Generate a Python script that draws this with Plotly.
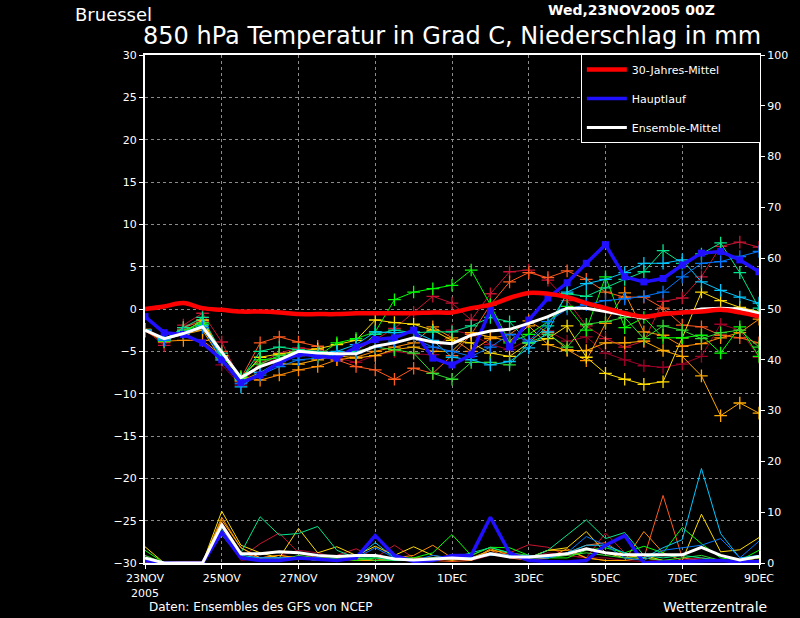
import pandas as pd
import plotly.graph_objects as go

# 12-hourly steps from 23NOV2005 00Z to 9DEC2005 00Z
zeit = pd.date_range("2005-11-23 00:00", periods=33, freq="12h")

# 850 hPa temperature (deg C)
klima_mittel = [0.0, 0.3, 0.7, 0.1, -0.1, -0.3, -0.3, -0.4, -0.6, -0.6, -0.6, -0.5, -0.5, -0.5, -0.5, -0.4,
                -0.4, 0.1, 0.5, 1.3, 1.9, 1.8, 1.4, 0.7, 0.1, -0.5, -0.9, -0.6, -0.4, -0.3, -0.1, -0.4, -0.9]
hauptlauf = [-0.9, -2.8, -3.0, -4.0, -6.0, -8.7, -7.8, -6.3, -5.3, -5.5, -5.8, -4.5, -3.6, -3.4, -2.5, -5.8,
             -6.6, -5.4, -0.1, -4.5, -1.3, 1.3, 3.1, 5.4, 7.6, 3.8, 3.2, 3.6, 5.2, 6.6, 6.8, 5.8, 4.4]
ens_mittel = [-2.5, -3.5, -2.9, -2.1, -5.1, -8.1, -6.8, -6.0, -5.0, -5.2, -5.3, -5.3, -4.4, -4.0, -3.4, -3.9,
              -4.1, -3.1, -2.6, -2.4, -1.7, -0.9, 0.1, 0.1, -0.3, -0.7, -1.1, -0.5, -0.4, 0.0, 0.1, 0.0, -0.5]

members = {
    "#c81432": [-2.4, -4.3, -1.9, -0.5, -3.9, -8.6, -6.4, -5.2, -4.6, -4.8, -5.6, -4.9, -3.6, -2.3, -0.4, 1.5,
                0.7, -1.3, 1.8, 4.4, 4.6, 3.4, 1.0, -2.0, -3.5, -4.5, -3.8, 0.9, 1.3, 3.8, 7.4, 7.9, 7.3],
    "#a00028": [-2.6, -4.0, -2.4, -1.0, -6.6, -9.0, -6.2, -6.0, -5.5, -5.0, -5.8, -6.3, -5.5, -5.0, -5.3, -5.4,
                -2.5, -3.0, -4.2, -4.8, -3.6, -2.6, -3.8, -3.3, -5.2, -6.0, -6.7, -6.9, -6.5, -5.6, -1.8, -2.5, -5.7],
    "#ff5a1e": [-2.5, -3.9, -2.2, -1.4, -5.0, -8.2, -4.0, -3.3, -3.9, -4.4, -6.0, -6.8, -7.2, -8.3, -7.0, -7.6,
                -5.5, -3.0, 0.5, 3.2, 4.3, 3.7, 4.5, 3.5, 2.0, 1.4, 1.4, 0.1, -1.9, -2.1, -3.1, -3.4, -4.0],
    "#ff8c00": [-2.6, -3.8, -3.7, -3.7, -5.5, -8.0, -8.4, -7.8, -7.2, -6.8, -6.0, -5.7, -5.0, -4.5, -4.0, -2.1,
                -3.4, -5.0, -3.5, -3.0, -1.4, -2.8, -4.8, -6.1, -1.7, 1.9, -2.7, -3.1, -4.4, -4.1, -3.4, -2.8, -1.2],
    "#ffaa00": [-2.5, -3.6, -3.0, -2.5, -6.0, -8.5, -7.5, -6.5, -6.5, -6.0, -5.5, -5.8, -5.5, -4.8, -4.5, -5.0,
                -5.0, -2.8, -3.3, -3.8, -2.0, -4.2, -4.9, -4.9, -4.0, -4.0, -3.8, -4.9, -5.6, -7.9, -12.6, -11.1, -12.3],
    "#ffdc00": [-2.4, -3.5, -2.8, -1.3, -5.5, -8.2, -5.7, -5.3, -5.0, -4.7, -4.2, -3.7, -1.3, -1.6, -1.8, -2.5,
                -3.7, -4.0, -5.2, -5.6, -4.0, -3.5, -2.0, -5.7, -7.6, -8.3, -8.9, -8.6, -3.4, 2.0, 1.0, 0.2, -0.3],
    "#00ff00": [-2.5, -3.8, -2.6, -1.8, -5.6, -8.0, -6.0, -5.8, -5.4, -5.6, -4.0, -3.5, -2.7, 1.1, 2.0, 2.4,
                2.8, 4.6, 0.5, -4.0, -3.0, -1.5, 0.3, -2.5, 3.8, -2.2, -1.0, -3.4, -3.4, -3.1, -5.2, -2.1, -5.6],
    "#32dc32": [-2.5, -3.7, -2.5, -1.6, -5.8, -8.4, -6.5, -5.5, -5.0, -5.5, -5.5, -5.0, -4.5, -4.8, -5.2, -7.6,
                -8.3, -6.3, -6.3, -6.6, -4.0, -3.0, -4.5, -1.8, -1.5, -1.0, -3.5, -2.0, -2.5, -3.5, -2.8, -2.5, -4.5],
    "#00e68c": [-2.5, -3.6, -2.2, -1.0, -5.2, -8.3, -5.0, -4.5, -4.8, -5.0, -5.5, -5.0, -3.0, -2.5, -2.8, -2.7,
                -2.7, -2.0, -1.0, -1.5, -4.0, -2.0, 1.8, 1.5, 2.5, 3.5, 4.4, 6.9, 5.4, 6.5, 7.8, 4.3, 0.1],
    "#00c8ff": [-2.6, -3.5, -2.7, -2.0, -5.7, -9.2, -7.5, -6.2, -5.5, -5.2, -5.0, -4.2, -2.7, -2.8, -2.7, -3.7,
                -5.7, -6.0, -6.6, -6.2, -4.6, -2.7, 2.0, 3.0, 3.5, 4.3, 5.4, 5.4, 5.8, 3.2, 2.2, 1.4, 0.7],
    "#0078ff": [-2.5, -3.7, -2.9, -2.2, -6.0, -8.8, -7.8, -6.8, -6.0, -5.8, -5.5, -5.2, -4.5, -3.8, -3.5, -4.5,
                -5.0, -5.6, -4.5, -3.0, -3.8, -1.5, 0.0, 0.5, 1.0, 1.2, 1.5, 2.0, 3.8, 5.4, 5.6, 6.2, 6.8],
}

# precipitation (mm per 12h), right axis
nieder_haupt = [0.5, 0, 0, 0, 6.0, 1.0, 0.5, 0.5, 1.0, 0.8, 0.5, 1.0, 5.4, 1.5, 0.3, 0.5,
                1.5, 1.5, 9.0, 2.0, 0.5, 0.3, 0.2, 0.5, 3.5, 5.4, 0.0, 0.2, 0.3, 0.5, 0.5, 0.2, 0.3]
nieder_mittel = [1.0, 0, 0, 0, 7.5, 1.8, 1.8, 2.2, 2.0, 1.5, 1.3, 1.5, 1.5, 0.8, 0.6, 0.8,
                 1.0, 0.8, 1.8, 1.2, 1.2, 1.5, 1.8, 2.8, 2.0, 1.6, 1.6, 1.6, 1.6, 3.1, 1.5, 0.6, 1.3]
nieder_members = {
    "#c81432": [0.5, 0, 0, 0, 7, 1, 3.8, 5.9, 2, 1, 1.5, 2.8, 1, 3.5, 1, 0.5, 0.8, 0.5, 1.5, 2, 3.6, 3.1, 1.5, 1, 5.9, 2, 1, 0.5, 0.5, 1, 0.5, 0.3, 1],
    "#a00028": [0.3, 0, 0, 0, 6, 0.5, 1, 1.5, 2.5, 2, 1, 1, 0.5, 0.5, 0.5, 1, 1, 1, 1.5, 1.5, 1, 2, 1.5, 1, 1, 0.5, 0.3, 0.5, 0.5, 1, 0.5, 0.3, 0.5],
    "#ff5a1e": [0.2, 0, 0.3, 0.3, 8, 2, 1, 1.5, 1, 0.5, 0.5, 0.8, 0.5, 1, 0.5, 0.5, 0.3, 0.5, 2.5, 1, 0.5, 1, 2, 3.5, 4.0, 1.5, 1, 13.3, 1, 0.5, 0.5, 0.3, 0.5],
    "#ff8c00": [0.3, 0, 0.3, 0, 9, 3, 1, 1, 1, 0.5, 0.5, 1, 0.5, 1, 1.5, 3.5, 1, 0.5, 2.8, 1.5, 1, 1, 2.8, 1, 0.5, 0.5, 6.2, 2, 0.5, 0.3, 0.3, 0.5, 1],
    "#ffaa00": [0.5, 0, 0, 0, 8.5, 3, 1, 1.5, 1, 0.5, 0.8, 0.5, 0.5, 0.5, 1, 1, 0.5, 1, 2.5, 2, 1, 2.5, 2.5, 1, 0.5, 0.5, 1, 0.5, 0.5, 0.3, 0.5, 0.5, 1],
    "#ffdc00": [3.2, 0, 0, 0, 10.2, 3.5, 2, 1, 6.8, 2, 3.2, 1.5, 3.3, 1.5, 3.2, 1.5, 0.8, 1, 2, 1.5, 1, 2.5, 3, 6.2, 2, 1, 1.5, 0.5, 0.5, 9.6, 2.2, 2.6, 5.0],
    "#00ff00": [2.5, 0, 0, 0, 6, 1, 0.5, 0.5, 1, 0.5, 1, 0.5, 1, 1, 1, 2, 5.6, 1.5, 3.1, 3, 1.5, 1, 1, 2.5, 3, 2, 3.3, 2, 7, 3.8, 1, 0.5, 2.5],
    "#32dc32": [1.5, 0, 0, 0, 5.5, 1, 0.5, 0.5, 1.5, 1, 1, 1, 0.5, 0.5, 0.5, 1, 1, 1.5, 3.1, 2, 1.5, 1, 1.5, 2, 1.5, 1, 1, 0.5, 1, 1.5, 0.5, 0.5, 1],
    "#00e68c": [1.0, 0, 0, 0, 7, 2, 9.1, 5.5, 5.8, 7.2, 2.5, 1, 1, 0.5, 0.5, 1, 1, 2, 3, 2, 1, 2.5, 5.5, 8.5, 4.8, 6.0, 1.5, 1, 1.5, 1, 0.5, 0.3, 0.5],
    "#00c8ff": [0.5, 0, 0, 0, 6.5, 1.5, 1, 1, 1, 1, 0.5, 1, 4, 1, 0.5, 0.5, 1, 1, 1.5, 1.5, 1, 1, 2, 3.5, 3.5, 2, 1, 3, 4.6, 18.6, 5.8, 1, 1.5],
    "#0078ff": [0.5, 0, 0, 0, 6, 1, 1, 1, 1, 1, 0.5, 1, 3, 1, 0.5, 1.5, 1, 1, 2, 1.5, 1.5, 1, 2, 5.2, 3.5, 1, 0.5, 2.5, 3, 3.5, 4.8, 1, 4.3],
}

tick_tage = pd.date_range("2005-11-23", "2005-12-09", freq="2D")
tick_text = ["23NOV<br>2005", "25NOV", "27NOV", "29NOV", "1DEC", "3DEC", "5DEC", "7DEC", "9DEC"]

FONT = "DejaVu Sans"
BLAU = "#2010ff"
PAD = "\u00a0" * 10  # makes the legend box as wide as in the original

fig = go.Figure()

# ensemble members: precipitation first, then temperature
for farbe, werte in nieder_members.items():
    fig.add_trace(go.Scatter(x=zeit, y=werte, yaxis="y2", mode="lines",
                             line=dict(color=farbe, width=1), showlegend=False))
for farbe, werte in members.items():
    fig.add_trace(go.Scatter(x=zeit, y=werte, mode="lines+markers",
                             line=dict(color=farbe, width=1),
                             marker=dict(symbol="cross-thin", size=9, line=dict(color=farbe, width=1.3)),
                             showlegend=False))

fig.add_trace(go.Scatter(x=zeit, y=nieder_haupt, yaxis="y2", mode="lines",
                         line=dict(color=BLAU, width=3.5), showlegend=False))
fig.add_trace(go.Scatter(x=zeit, y=nieder_mittel, yaxis="y2", mode="lines",
                         line=dict(color="white", width=3), showlegend=False))

fig.add_trace(go.Scatter(x=zeit, y=hauptlauf, mode="lines", name="Hauptlauf",
                         line=dict(color=BLAU, width=3.5), legendgroup="b", legendrank=2))
fig.add_trace(go.Scatter(x=zeit, y=hauptlauf, mode="markers", showlegend=False,
                         marker=dict(symbol="square", size=7, color=BLAU)))
fig.add_trace(go.Scatter(x=zeit, y=ens_mittel, mode="lines", name="Ensemble-Mittel",
                         line=dict(color="white", width=3), legendgroup="c", legendrank=3))
fig.add_trace(go.Scatter(x=zeit, y=klima_mittel, mode="lines", name="30-Jahres-Mittel" + PAD,
                         line=dict(color="#ff0000", width=4.5, shape="spline"),
                         legendgroup="a", legendrank=1))

achse = dict(color="white", linecolor="white", linewidth=2, ticks="outside", ticklen=4,
             tickcolor="white", tickfont=dict(family=FONT, size=11, color="white"))

fig.update_layout(
    width=800, height=618,
    margin=dict(l=145, r=37, t=55, b=55),
    paper_bgcolor="black", plot_bgcolor="black",
    font=dict(family=FONT, color="white"),
    xaxis=dict(range=[zeit[0], zeit[-1]], tickvals=tick_tage, ticktext=tick_text,
               showgrid=True, gridcolor="#8c8c8c", griddash="dot", gridwidth=1,
               mirror=True, zeroline=False, **achse),
    yaxis=dict(range=[-30, 30], dtick=5, showgrid=True, gridcolor="#8c8c8c", griddash="dot",
               gridwidth=1, zeroline=False, **achse),
    yaxis2=dict(range=[0, 100], dtick=10, overlaying="y", side="right", showgrid=False,
                zeroline=False, **achse),
    legend=dict(x=1.003, y=1.002, xanchor="right", yanchor="top", bgcolor="black",
                bordercolor="white", borderwidth=1, itemwidth=40,
                font=dict(family=FONT, size=11, color="white"), tracegroupgap=10),
    annotations=[
        dict(text="Bruessel", x=-0.117, y=1.104, xref="paper", yref="paper",
             xanchor="left", yanchor="top", showarrow=False,
             font=dict(family=FONT, size=18, color="white")),
        dict(text="850 hPa Temperatur in Grad C, Niederschlag in mm", x=0.5, y=1.037,
             xref="paper", yref="paper", xanchor="center", yanchor="middle", showarrow=False,
             font=dict(family=FONT, size=24, color="white")),
        dict(text="<b>Wed,23NOV2005 00Z</b>", x=0.793, y=1.089, xref="paper", yref="paper",
             xanchor="center", yanchor="middle", showarrow=False,
             font=dict(family=FONT, size=14, color="white")),
        dict(text="Daten: Ensembles des GFS von NCEP", x=0.003, y=-0.087, xref="paper",
             yref="paper", xanchor="left", yanchor="middle", showarrow=False,
             font=dict(family=FONT, size=12, color="white")),
        dict(text="Wetterzentrale", x=1.016, y=-0.087, xref="paper", yref="paper",
             xanchor="right", yanchor="middle", showarrow=False,
             font=dict(family=FONT, size=14, color="white")),
    ],
)

fig.write_html("out.html", config={"displayModeBar": False},
               post_script="document.body.style.margin='0px';")
